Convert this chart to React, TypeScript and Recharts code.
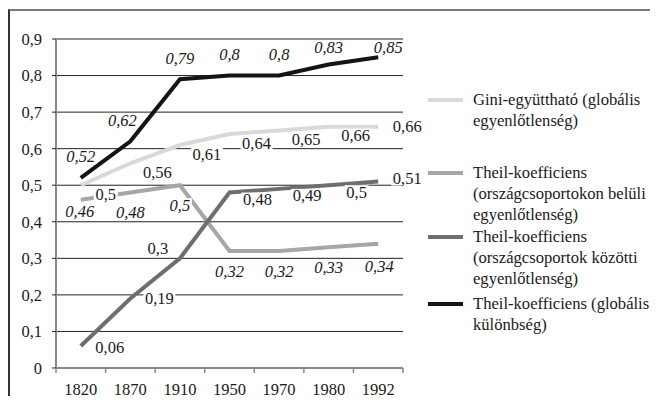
import { LineChart, Line, XAxis, YAxis, CartesianGrid, LabelList } from 'recharts';

const years = ['1820', '1870', '1910', '1950', '1970', '1980', '1992'];
const giniGlobal = [0.5, 0.56, 0.61, 0.64, 0.65, 0.66, 0.66];
const theilWithin = [0.46, 0.48, 0.5, 0.32, 0.32, 0.33, 0.34];
const theilBetween = [0.06, 0.19, 0.3, 0.48, 0.49, 0.5, 0.51];
const theilGlobal = [0.52, 0.62, 0.79, 0.8, 0.8, 0.83, 0.85];
const yTicks = [0, 0.1, 0.2, 0.3, 0.4, 0.5, 0.6, 0.7, 0.8, 0.9];

const FONT = '"Liberation Serif", "DejaVu Serif", serif';

// x axis is numeric so tick marks can sit between the year slots
const data = years.map((year, i) => ({
  year,
  pos: i + 0.5,
  gini: giniGlobal[i],
  within: theilWithin[i],
  between: theilBetween[i],
  global: theilGlobal[i],
}));
const xTicks = [...years.flatMap((_, i) => [i, i + 0.5]), years.length];

const series = [
  { key: 'gini', name: 'Gini-együttható (globális\negyenlőtlenség)', color: '#d9d9d9' },
  { key: 'within', name: 'Theil-koefficiens\n(országcsoportokon belüli\negyenlőtlenség)', color: '#a6a6a6' },
  { key: 'between', name: 'Theil-koefficiens\n(országcsoportok közötti\negyenlőtlenség)', color: '#6e6e6e' },
  { key: 'global', name: 'Theil-koefficiens (globális\nkülönbség)', color: '#141414' },
];

// label placement per series, with a few hand-tuned exceptions
const labelSetup: Record<string, { dx: number; dy: number; italic: boolean; fix: Record<number, [number, number]> }> = {
  gini: { dx: 27, dy: 9, italic: false, fix: { 0: [25, 9], 6: [29, 0] } },
  within: { dx: 0, dy: 20, italic: true, fix: { 0: [-1, 12], 6: [1, 23] } },
  between: { dx: 28, dy: 7, italic: false, fix: { 0: [29, 1], 1: [29, 0], 2: [-22, -10], 6: [29, -3] } },
  global: { dx: 0, dy: -21, italic: true, fix: { 1: [-8, -21], 5: [0, -17], 6: [10, -10] } },
};

const fmt = (v: number) => (v === 0 ? '0' : String(v).replace('.', ','));

const makeLabel = (key: string) => (props: any) => {
  const { x, y, value, index } = props;
  const cfg = labelSetup[key];
  const [dx, dy] = cfg.fix[index] ?? [cfg.dx, cfg.dy];
  const text = fmt(value);
  const w = text.length * 8 - 2;
  return (
    <g>
      <rect x={x + dx - w / 2 - 1} y={y + dy - 7} width={w + 2} height={14} fill="#fff" />
      <text
        x={x + dx}
        y={y + dy}
        textAnchor="middle"
        dominantBaseline="central"
        fontFamily={FONT}
        fontSize={16.5}
        fontStyle={cfg.italic ? 'italic' : 'normal'}
        fill="#1a1a1a"
      >
        {text}
      </text>
    </g>
  );
};

function XTick({ x, y, payload }: any) {
  const v = payload.value;
  if (Number.isInteger(v)) {
    return <line x1={x} x2={x} y1={y} y2={y + 5} stroke="#888" strokeWidth={1.5} />;
  }
  return (
    <text x={x} y={y + 21} textAnchor="middle" dominantBaseline="central" fontFamily={FONT} fontSize={16.5} fill="#1a1a1a">
      {years[Math.floor(v)]}
    </text>
  );
}

const legendTops = [80.5, 153.5, 217.5, 284.5];

export default function App() {
  return (
    <div style={{ position: 'relative', width: 642, height: 388 }}>
      <div
        style={{
          position: 'absolute',
          left: 0,
          top: 1,
          width: 648,
          height: 393,
          borderTop: '2px solid #7a7a7a',
          borderLeft: '2px solid #333',
        }}
      />
      <div style={{ position: 'absolute', left: 0, top: 0 }}>
        <LineChart width={642} height={396} data={data} margin={{ top: 31, right: 247, left: 0, bottom: 8 }}>
          <CartesianGrid vertical={false} stroke="#222" strokeWidth={1} />
          <XAxis
            dataKey="pos"
            type="number"
            domain={[0, years.length]}
            ticks={xTicks}
            interval={0}
            height={28}
            tickSize={0}
            tickMargin={0}
            tickLine={false}
            axisLine={{ stroke: '#888', strokeWidth: 2 }}
            tick={<XTick />}
          />
          <YAxis
            type="number"
            domain={[0, 0.9]}
            ticks={yTicks}
            interval={0}
            width={48}
            tickSize={4}
            tickMargin={10}
            tickLine={{ stroke: '#222' }}
            axisLine={{ stroke: '#888', strokeWidth: 2 }}
            tickFormatter={fmt}
            tick={{ fill: '#1a1a1a', fontSize: 16.5, fontFamily: FONT }}
          />
          {series.map((s) => (
            <Line
              key={s.key}
              type="linear"
              dataKey={s.key}
              stroke={s.color}
              strokeWidth={4}
              dot={false}
              activeDot={false}
              isAnimationActive={false}
            >
              <LabelList dataKey={s.key} content={makeLabel(s.key)} />
            </Line>
          ))}
        </LineChart>
      </div>
      {series.map((s, i) => (
        <div key={s.key} style={{ position: 'absolute', left: 420, top: legendTops[i], fontFamily: FONT, fontSize: 16.6, lineHeight: '21px', color: '#1a1a1a' }}>
          <div style={{ position: 'absolute', left: 0, top: 9, width: 35, height: 4, background: s.color }} />
          <div style={{ marginLeft: 45, whiteSpace: 'pre' }}>{s.name}</div>
        </div>
      ))}
    </div>
  );
}
